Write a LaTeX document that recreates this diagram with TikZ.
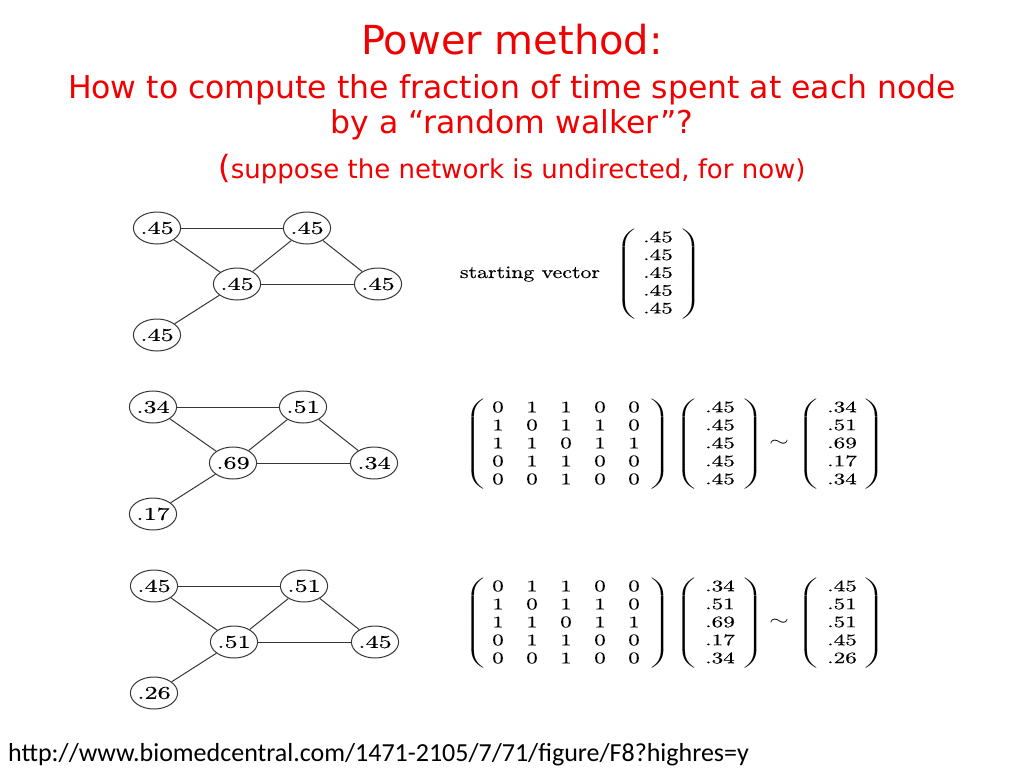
\documentclass[tikz,border=0pt]{standalone}
\usepackage{fontspec}
\usepackage{graphicx}
\usetikzlibrary{shapes.geometric}
\newfontfamily\titlefont{DejaVu Sans}
\newfontfamily\urlfont{Carlito}
\newfontfamily\lmh{lmroman10-regular.otf}[FakeBold=0.3]
\definecolor{titlered}{RGB}{240,0,0}
\definecolor{lineclr}{RGB}{55,55,55}
\newcommand\sx[1]{\scalebox{1.45}[1]{#1}}
\newcommand\lpar{\scalebox{2.2}[1]{$\left(\vcenter to 90pt{\vfil}\right.$}}
\newcommand\rpar{\scalebox{2.2}[1]{$\left.\vcenter to 90pt{\vfil}\right)$}}
\tikzset{
  gnode/.style={draw=lineclr, ellipse, minimum width=46pt, minimum height=32pt,
    inner sep=0pt, line width=1pt, font=\lmh\fontsize{18}{21}\selectfont},
  gedge/.style={draw=lineclr, line width=1pt},
  entry/.style={inner sep=0pt, font=\lmh\fontsize{16}{19}\selectfont},
  delim/.style={inner sep=0pt, font=\fontsize{13.5}{16}\selectfont},
  titletext/.style={text=titlered, anchor=base, inner sep=0pt},
}
\begin{document}
\begin{tikzpicture}[x=1pt,y=-1pt]
\useasboundingbox (0,0) rectangle (1024,768);
\fill[white] (0,0) rectangle (1024,768);

% titles
\node[titletext, font=\titlefont\fontsize{40}{44}\selectfont] (t1) at (512,55) {Power method:};
\node[titletext, font=\titlefont\fontsize{31.5}{36}\selectfont] (t2) at (512,98) {How to compute the fraction of time spent at each node};
\node[titletext, font=\titlefont\fontsize{31.5}{36}\selectfont] (t3) at (512,133) {by a “random walker”?};
\node[titletext, font=\titlefont\fontsize{26}{30}\selectfont] (t4) at (512,178) {{\fontsize{32}{34}\selectfont(}suppose the network is undirected, for now)};

% graphs
\foreach \g/\ax/\ay/\la/\lb/\lc/\ld/\le in
  {1/157/228/.45/.45/.45/.45/.45,
   2/153/407/.34/.51/.69/.34/.17,
   3/154/586/.45/.51/.51/.45/.26}{
  \node[gnode] (g\g a) at (\ax,\ay) {\sx{\la}};
  \node[gnode] (g\g b) at (\ax+150,\ay) {\sx{\lb}};
  \node[gnode] (g\g c) at (\ax+80,\ay+56) {\sx{\lc}};
  \node[gnode] (g\g d) at (\ax+221,\ay+56) {\sx{\ld}};
  \node[gnode] (g\g e) at (\ax,\ay+107) {\sx{\le}};
  \draw[gedge] (g\g a) -- (g\g b);
  \draw[gedge] (g\g a) -- (g\g c);
  \draw[gedge] (g\g b) -- (g\g c);
  \draw[gedge] (g\g b) -- (g\g d);
  \draw[gedge] (g\g c) -- (g\g d);
  \draw[gedge] (g\g c) -- (g\g e);
}

% starting vector
\node[anchor=base, inner sep=0pt, font=\lmh\fontsize{17.5}{20}\selectfont] (sv) at (530,278) {\scalebox{1.25}[1]{starting vector}};
\foreach \r in {1,...,5}{
  \node[entry] (s-\r) at (658,{219.2+17.8*\r}) {\sx{.45}};
}
\node[delim] (sl) at (627,274) {\lpar};
\node[delim] (sr) at (690,274) {\rpar};

% matrices: rows 2 and 3
\foreach \blk/\oy in {B/389, C/568}{
  \foreach \r/\row in {1/{0,1,1,0,0}, 2/{1,0,1,1,0}, 3/{1,1,0,1,1}, 4/{0,1,1,0,0}, 5/{0,0,1,0,0}}{
    \foreach \v [count=\c] in \row {
      \node[entry] (m\blk-\r-\c) at ({464+34*\c},{\oy+18*\r}) {\sx{\v}};
    }
  }
  \node[delim] (m\blk l) at (476,\oy+55) {\lpar};
  \node[delim] (m\blk r) at (659,\oy+55) {\rpar};
  \node[delim] (v\blk l) at (687,\oy+55) {\lpar};
  \node[delim] (v\blk r) at (752,\oy+55) {\rpar};
  \node[entry] (sim\blk) at (779,\oy+54) {\sx{$\sim$}};
  \node[delim] (w\blk l) at (809,\oy+55) {\lpar};
  \node[delim] (w\blk r) at (873,\oy+55) {\rpar};
}
\foreach \r/\a/\b in {1/.45/.34, 2/.45/.51, 3/.45/.69, 4/.45/.17, 5/.45/.34}{
  \node[entry] (vB-\r) at (720,389+18*\r) {\sx{\a}};
  \node[entry] (wB-\r) at (842,389+18*\r) {\sx{\b}};
}
\foreach \r/\a/\b in {1/.34/.45, 2/.51/.51, 3/.69/.51, 4/.17/.45, 5/.34/.26}{
  \node[entry] (vC-\r) at (720,568+18*\r) {\sx{\a}};
  \node[entry] (wC-\r) at (842,568+18*\r) {\sx{\b}};
}

% url
\node[anchor=base west, inner sep=0pt, font=\urlfont\fontsize{26}{30}\selectfont] (url) at (8,761) {http://www.biomedcentral.com/1471-2105/7/71/figure/F8?highres=y};
\end{tikzpicture}
\end{document}
